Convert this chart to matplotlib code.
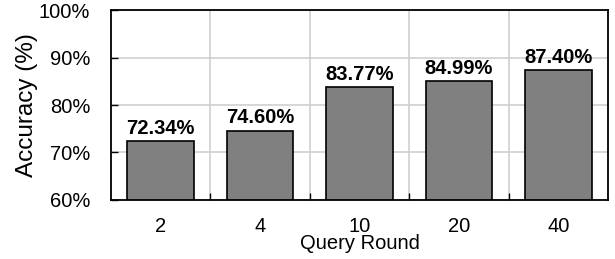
import matplotlib
matplotlib.use("Agg")
import matplotlib.pyplot as plt
import numpy as np
from matplotlib.ticker import FixedLocator

plt.rcParams['font.family'] = ['Liberation Sans', 'DejaVu Sans']

categories = ['2', '4', '10', '20', '40']
accuracy = [72.34, 74.60, 83.77, 84.99, 87.40]
yticks = [60, 70, 80, 90, 100]

fig = plt.figure(figsize=(6.15, 2.59), dpi=100)
ax = fig.add_axes([0.1805, 0.228, 0.808, 0.733])

x = np.arange(len(categories))
ax.bar(x, accuracy, width=0.67, color='#808080', edgecolor='black', linewidth=1.2, zorder=3)
for xi, v in zip(x, accuracy):
    ax.text(xi, v + 0.7, f'{v:.2f}%', ha='center', va='bottom', fontsize=14.5, fontweight='bold', zorder=4)

ax.set_xlim(-0.5, len(categories) - 0.5)
ax.set_ylim(60, 100)
ax.set_yticks(yticks)
ax.set_yticklabels([f'{t}%' for t in yticks], fontsize=14.5)
ax.set_xticks(x)
ax.set_xticklabels(categories, fontsize=14.5)
ax.xaxis.set_minor_locator(FixedLocator(x[:-1] + 0.5))
ax.tick_params(axis='x', which='major', length=0, pad=12)
ax.tick_params(axis='x', which='minor', length=5, direction='in', width=1)
ax.tick_params(axis='y', which='major', length=5, direction='in', width=1, pad=15)
ax.grid(True, axis='y', which='major', color='#d0d0d0', linewidth=1.2, zorder=0)
ax.grid(True, axis='x', which='minor', color='#d0d0d0', linewidth=1.2, zorder=0)
for s in ax.spines.values():
    s.set_linewidth(1.3)
    s.set_zorder(5)
ax.set_ylabel('Accuracy (%)', fontsize=17.5, labelpad=0.5)
ax.set_xlabel('Query Round', fontsize=14.5, labelpad=-1)

fig.savefig('out.png', dpi=100)
